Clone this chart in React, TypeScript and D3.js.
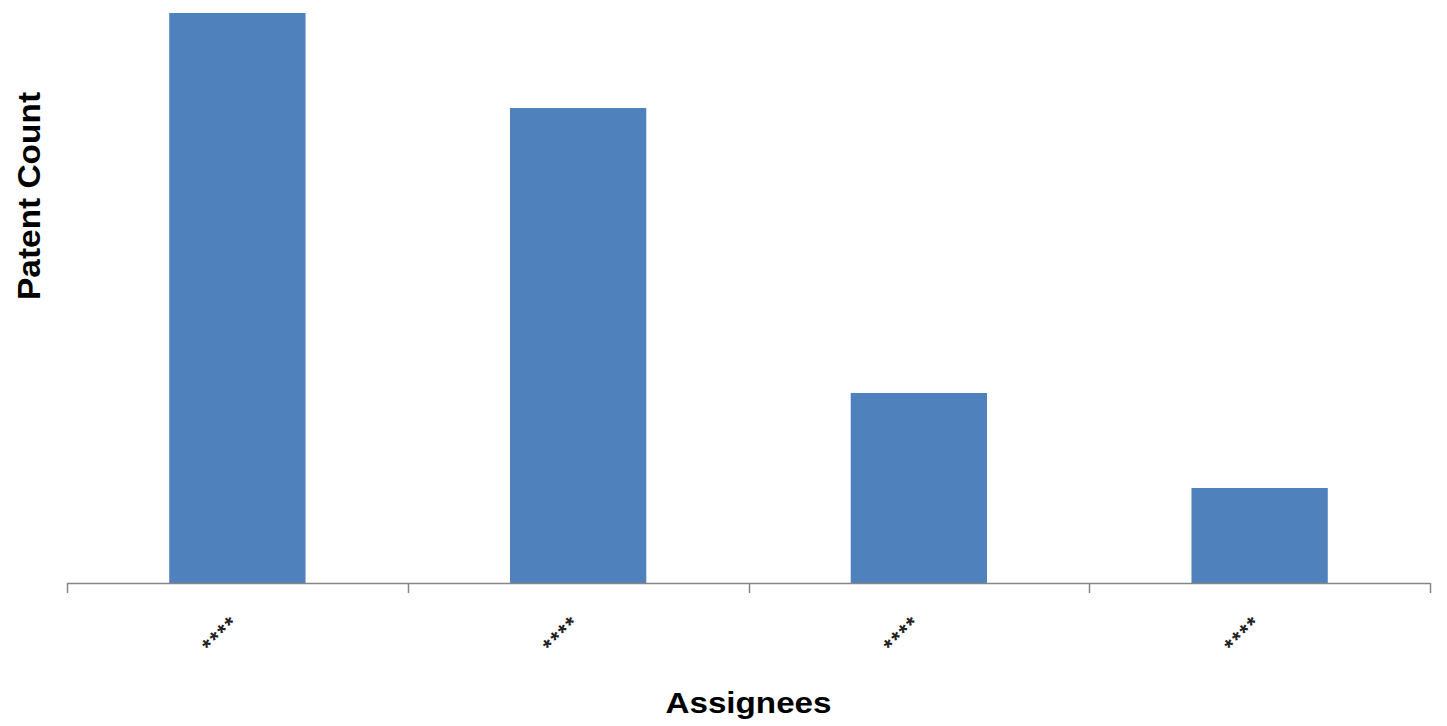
import React, { useEffect, useRef } from "react";
import * as d3 from "d3";

const categories: string[] = ["****", "****", "****", "****"];
const patentCounts: number[] = [6, 5, 2, 1];
const yMax = 6;

const W = 1447;
const H = 726;
const M = { left: 67, right: 17, top: 13, bottom: 143 };

export default function App() {
  const ref = useRef<SVGSVGElement | null>(null);

  useEffect(() => {
    document.body.style.margin = "0";
    const svg = d3.select(ref.current);
    svg.selectAll("*").remove();

    const x0 = M.left;
    const x1 = W - M.right;
    const yBase = H - M.bottom;

    const idx = categories.map((_, i) => String(i));
    const x = d3
      .scaleBand<string>()
      .domain(idx)
      .range([x0, x1])
      .paddingInner(0.6)
      .paddingOuter(0.3);
    const y = d3.scaleLinear().domain([0, yMax]).range([yBase, M.top]);
    const boundary = d3.scaleLinear().domain([0, categories.length]).range([x0, x1]);

    svg
      .append("g")
      .selectAll("rect")
      .data(patentCounts)
      .join("rect")
      .attr("x", (_, i) => x(String(i))!)
      .attr("y", (d) => y(d))
      .attr("width", x.bandwidth())
      .attr("height", (d) => yBase - y(d))
      .attr("fill", "#4F81BD");

    // axis line
    svg
      .append("line")
      .attr("x1", x0)
      .attr("x2", x1)
      .attr("y1", yBase + 0.5)
      .attr("y2", yBase + 0.5)
      .attr("stroke", "#868686")
      .attr("stroke-width", 1.5);

    // ticks at category boundaries
    svg
      .append("g")
      .selectAll("line")
      .data(d3.range(categories.length + 1))
      .join("line")
      .attr("x1", (d) => Math.round(boundary(d)) + 0.5)
      .attr("x2", (d) => Math.round(boundary(d)) + 0.5)
      .attr("y1", yBase)
      .attr("y2", yBase + 10)
      .attr("stroke", "#868686")
      .attr("stroke-width", 1.5);

    // tick labels
    svg
      .append("g")
      .selectAll("text")
      .data(categories)
      .join("text")
      .attr("transform", (_, i) => {
        const cx = x(String(i))! + x.bandwidth() / 2 + 2;
        return `translate(${cx},${yBase + 43}) rotate(-45)`;
      })
      .attr("text-anchor", "end")
      .attr("font-family", "Liberation Sans, Arial, sans-serif")
      .attr("font-weight", "bold")
      .attr("font-size", 22)
      .attr("textLength", 40)
      .attr("lengthAdjust", "spacing")
      .attr("fill", "#222")
      .text((d) => d);

    // x title
    svg
      .append("text")
      .attr("x", (x0 + x1) / 2)
      .attr("y", 713)
      .attr("text-anchor", "middle")
      .attr("font-family", "Liberation Sans, Arial, sans-serif")
      .attr("font-weight", "bold")
      .attr("font-size", 29)
      .attr("textLength", 166)
      .attr("lengthAdjust", "spacingAndGlyphs")
      .attr("fill", "#000")
      .text("Assignees");

    // y title
    svg
      .append("text")
      .attr("transform", `translate(40,${(92 + 300) / 2}) rotate(-90)`)
      .attr("text-anchor", "middle")
      .attr("font-family", "Liberation Sans, Arial, sans-serif")
      .attr("font-weight", "bold")
      .attr("font-size", 31)
      .attr("textLength", 208)
      .attr("lengthAdjust", "spacingAndGlyphs")
      .attr("fill", "#000")
      .text("Patent Count");
  }, []);

  return (
    <svg
      ref={ref}
      width={W}
      height={H}
      style={{ position: "absolute", left: 0, top: 0, background: "#fff" }}
    />
  );
}
